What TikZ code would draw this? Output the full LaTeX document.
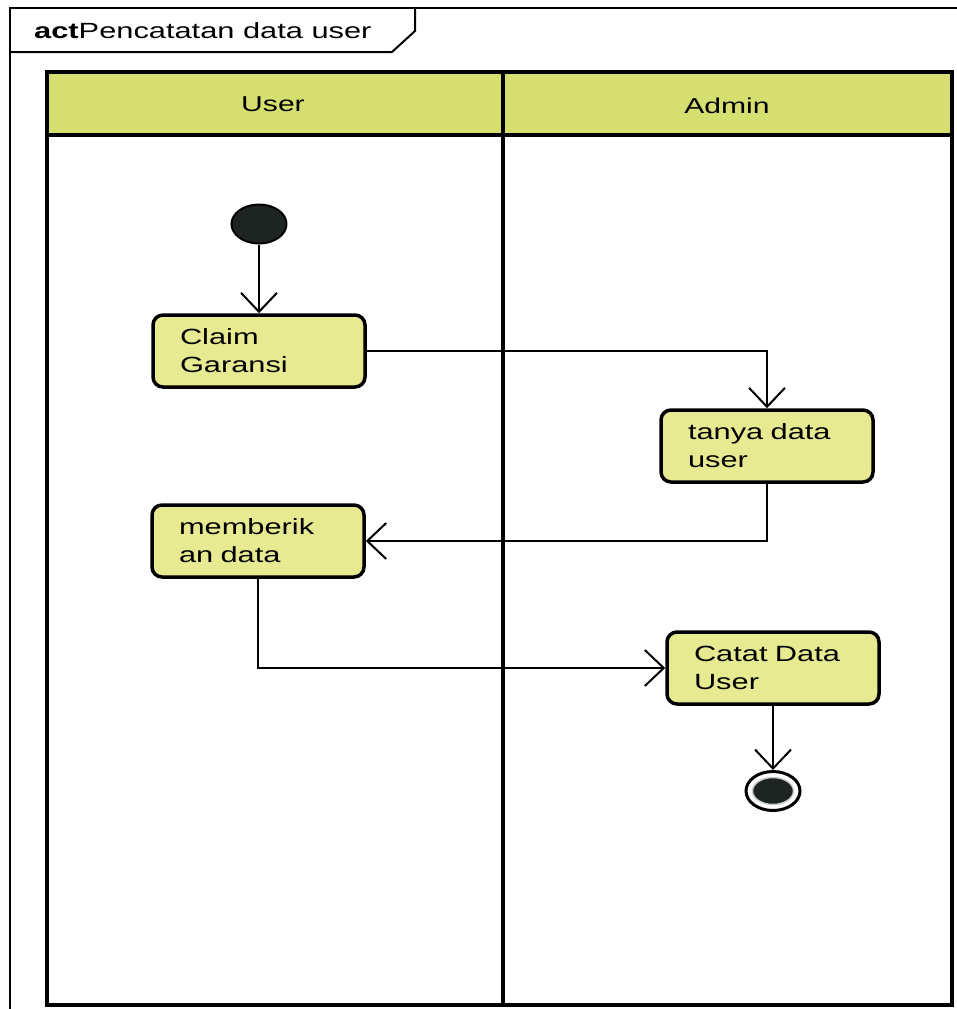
\documentclass[tikz,border=0pt]{standalone}
\usepackage{fontspec}
\setmainfont{Liberation Sans}[FakeStretch=1.4]
\usetikzlibrary{arrows.meta,shapes.geometric}

\definecolor{laneHead}{RGB}{214,222,112}
\definecolor{actFill}{RGB}{232,234,146}
\definecolor{dotFill}{RGB}{30,36,33}
\definecolor{ringGray}{RGB}{200,204,200}

\tikzset{
  frameline/.style={draw, line width=2},
  laneline/.style={draw, line width=3.5},
  activity/.style={draw, line width=3.5, rounded corners=10, fill=actFill,
    minimum width=212, minimum height=72, text width=158, align=left,
    inner xsep=27, font=\fontsize{22}{28}\selectfont},
  flow/.style={draw, line width=2,
    -{Straight Barb[length=19,width=36,line width=2]}},
  lanetitle/.style={font=\fontsize{21.5}{25}\selectfont},
}

\begin{document}
\begin{tikzpicture}[x=1pt,y=-1pt]
  \useasboundingbox (0,0) rectangle (957,1009);
  \clip (0,0) rectangle (957,1009);

  % diagram frame with its name tab
  \draw[frameline] (10,1030) -- (10,8) -- (980,8);
  \draw[frameline] (10,52) -- (392,52) -- (415,31) -- (415,8);
  \node[anchor=west, inner sep=0, font=\fontsize{22}{25}\selectfont] (title)
    at (34,31) {\textbf{act}Pencatatan data user};

  % swimlane headers
  \fill[laneHead] (47,72) rectangle (952,135);
  \draw[laneline] (47,72) rectangle (952,1005);
  \draw[laneline] (47,135) -- (952,135);
  \draw[laneline] (503,72) -- (503,1005);
  \node[lanetitle] (laneUser) at (273,104) {User};
  \node[lanetitle] (laneAdmin) at (727,106) {Admin};

  % activities
  \node[activity] (claim)  at (259,351) {Claim\\Garansi};
  \node[activity] (tanya)  at (767,446) {tanya data\\user};
  \node[activity] (beri)   at (258,541) {memberik\\an data};
  \node[activity] (catat)  at (773,668) {Catat Data\\User};

  % initial and final nodes
  \node[ellipse, draw, line width=2, fill=dotFill, minimum width=55,
        minimum height=39, inner sep=0] (start) at (259,224) {};
  \node[ellipse, draw, line width=3, fill=white, minimum width=54,
        minimum height=39, inner sep=0] (finish) at (773,791) {};
  \node[ellipse, fill=dotFill, draw=ringGray, line width=1.5,
        minimum width=41, minimum height=27, inner sep=0] (finishCore)
        at (finish.center) {};

  % control flows
  \draw[flow] (start.south) -- (claim.north);
  \draw[flow] (claim.east) -- (claim.east -| tanya.north) -- (tanya.north);
  \draw[flow] (tanya.south) |- (beri.east);
  \draw[flow] (beri.south) |- (catat.west);
  \draw[flow] (catat.south) -- (finish.north);
\end{tikzpicture}
\end{document}
